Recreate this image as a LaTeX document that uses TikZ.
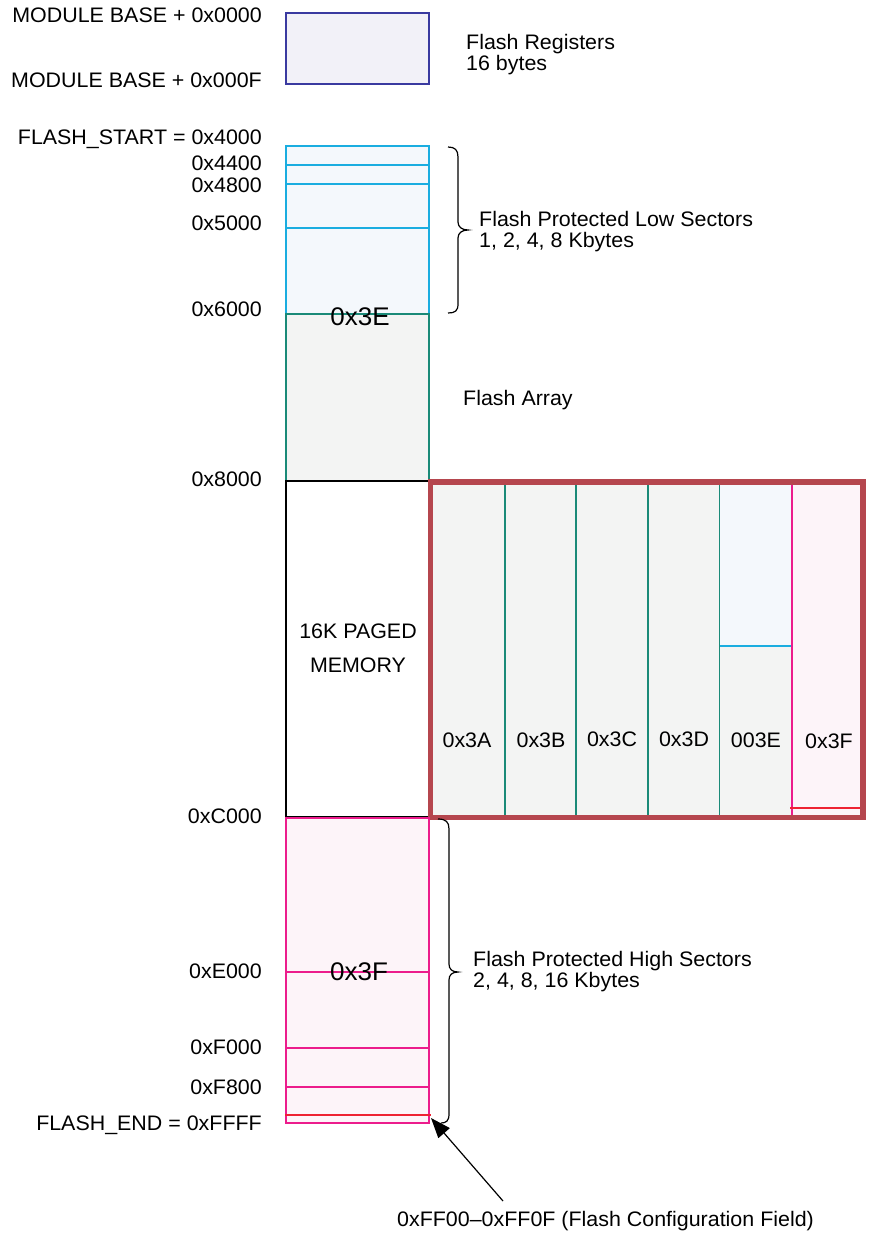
\documentclass[tikz,border=0pt]{standalone}
\usepackage{fontspec}
\setmainfont{Liberation Sans}[FakeStretch=1.02]
\usetikzlibrary{arrows.meta}
\definecolor{regfill}{HTML}{F2F1F8}
\definecolor{regline}{HTML}{3A3AA0}
\definecolor{cyanline}{HTML}{1AADE0}
\definecolor{cyanfill}{HTML}{F4F8FC}
\definecolor{tealline}{HTML}{1A8A78}
\definecolor{grayfill}{HTML}{F3F4F3}
\definecolor{pinkline}{HTML}{EC1C8C}
\definecolor{pinkfill}{HTML}{FDF4F9}
\definecolor{redbox}{HTML}{B5464E}
\definecolor{redmark}{HTML}{EE2233}
\begin{document}
\begin{tikzpicture}[x=1pt,y=-1pt,
  addr/.style={font=\fontsize{21}{24}\selectfont, inner sep=0pt, anchor=base east},
  note/.style={font=\fontsize{21}{24}\selectfont, inner sep=0pt, anchor=base west},
  page/.style={font=\fontsize{21}{24}\selectfont, inner sep=0pt, anchor=base},
  big/.style={font=\fontsize{25.5}{30}\selectfont, inner sep=0pt, anchor=base},
  regbox/.style={draw=regline, fill=regfill, line width=1.4pt},
  lowbox/.style={draw=cyanline, fill=cyanfill, line width=1.4pt},
  arrbox/.style={draw=tealline, fill=grayfill, line width=1.4pt},
  highbox/.style={draw=pinkline, fill=pinkfill, line width=1.4pt},
  sepcyan/.style={draw=cyanline, line width=1.4pt},
  septeal/.style={draw=tealline, line width=1.2pt},
  seppink/.style={draw=pinkline, line width=1.4pt},
  endmark/.style={draw=redmark, line width=2.8pt},
  bracepath/.style={draw=black, line width=1.2pt},
]
\useasboundingbox (0,0) rectangle (872,1237);

% ---- Flash registers
\draw[regbox] (286,13) rectangle (429,84);
\node[note] (regs1) at (466,49) {Flash Registers};
\node[note] (regs2) at (466,70) {16 bytes};

% ---- low sectors (0x3E)
\draw[lowbox] (286,146) rectangle (429,314);
\draw[sepcyan] (286,165) -- (429,165);
\draw[sepcyan] (286,184) -- (429,184);
\draw[sepcyan] (286,228) -- (429,228);
\draw[arrbox] (286,314) rectangle (429,481);

% ---- paged memory window
\draw[black, line width=1.2pt, fill=white] (286,481) rectangle (430,817);
\node[page] (pg1) at (358,638) {16K PAGED};
\node[page] (pg2) at (358,672) {MEMORY};

% ---- page columns
\fill[grayfill] (431,484) rectangle (862,816);
\fill[cyanfill] (719.5,484) rectangle (792,646);
\fill[pinkfill] (792,484) rectangle (862,816);
\draw[septeal] (431,484.5) -- (719.5,484.5);
\draw[sepcyan] (719.5,484.5) -- (792,484.5);
\foreach \cx in {505,576,648,719.5} \draw[septeal] (\cx,484) -- (\cx,816);
\draw[sepcyan] (719.5,646) -- (792,646);
\draw[seppink] (792,484) -- (792,816);
\draw[endmark] (790,808) -- (861,808);
\draw[draw=redbox, line width=5.5pt] (430.7,482) rectangle (863,817.5);
\node[page] (p3a) at (467,747) {0x3A};
\node[page] (p3b) at (541,747) {0x3B};
\node[page] (p3c) at (612,746) {0x3C};
\node[page] (p3d) at (684,746) {0x3D};
\node[page] (p3e) at (756,747) {003E};
\node[page] (p3f) at (829,748) {0x3F};

% ---- high sectors (0x3F)
\draw[highbox] (286,818) rectangle (429,1123);
\draw[seppink] (286,972) -- (429,972);
\draw[seppink] (286,1048) -- (429,1048);
\draw[seppink] (286,1087) -- (429,1087);
\draw[endmark] (285,1115) -- (431,1115);

% ---- big page labels
\node[big] (l3e) at (360,325) {0x3E};
\node[big] (l3f) at (359,980) {0x3F};

% ---- address labels
\node[addr] (a0) at (262,22) {MODULE BASE + 0x0000};
\node[addr] (a1) at (262,87) {MODULE BASE + 0x000F};
\node[addr] (a2) at (262,144) {FLASH\_START = 0x4000};
\node[addr] (a3) at (262,170) {0x4400};
\node[addr] (a4) at (262,192) {0x4800};
\node[addr] (a5) at (262,230) {0x5000};
\node[addr] (a6) at (262,316) {0x6000};
\node[addr] (a7) at (262,486) {0x8000};
\node[addr] (a8) at (262,823) {0xC000};
\node[addr] (a9) at (262,978) {0xE000};
\node[addr] (a10) at (262,1054) {0xF000};
\node[addr] (a11) at (262,1094) {0xF800};
\node[addr] (a12) at (262,1130) {FLASH\_END = 0xFFFF};

% ---- braces and their texts
\draw[bracepath] (448,147) .. controls (455,147) and (458,150) .. (458,157)
  -- (458,222) .. controls (458,227) and (462,230) .. (468,230)
  .. controls (462,230) and (458,233) .. (458,238)
  -- (458,304) .. controls (458,311) and (455,313) .. (448,313);
\node[note] (low1) at (479,226) {Flash Protected Low Sectors};
\node[note] (low2) at (479,247) {1, 2, 4, 8 Kbytes};
\node[note] (arr) at (463,405) {Flash Array};

\draw[bracepath] (438,819) .. controls (446,819) and (449,822) .. (449,829)
  -- (449,964) .. controls (449,969) and (452,972) .. (458,972)
  .. controls (452,972) and (449,975) .. (449,980)
  -- (449,1114) .. controls (449,1121) and (446,1123) .. (441,1123);
\node[note] (high1) at (473,966) {Flash Protected High Sectors};
\node[note] (high2) at (473,987) {2, 4, 8, 16 Kbytes};

% ---- configuration field pointer
\node[note] (cfg) at (397,1226) {0xFF00–0xFF0F (Flash Configuration Field)};
\coordinate (cfgtail) at (503,1201);
\coordinate (cfgtip) at (431,1118);
\draw[line width=1.2pt, -{Triangle[length=20pt,width=15pt]}] (cfgtail) -- (cfgtip);
\end{tikzpicture}
\end{document}
